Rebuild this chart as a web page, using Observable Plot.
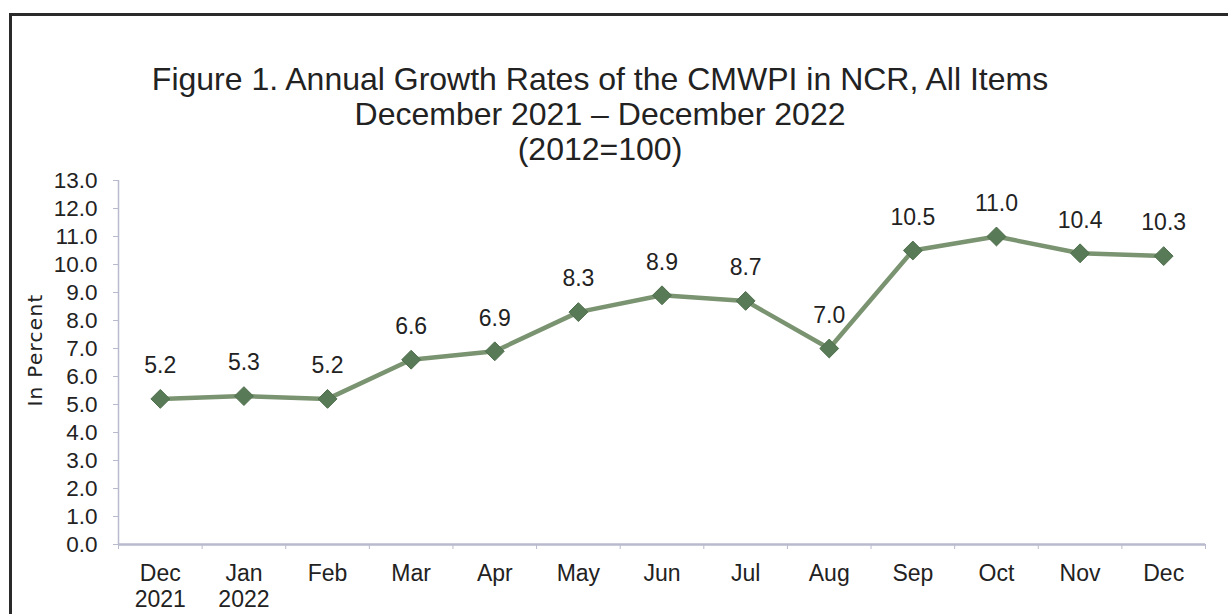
<!DOCTYPE html>
<html>
<head>
<meta charset="utf-8">
<script src="https://cdn.jsdelivr.net/npm/d3@7"></script>
<script src="https://cdn.jsdelivr.net/npm/@observablehq/plot@0.6"></script>
<style>
  html, body { margin: 0; padding: 0; background: #fff; width: 1228px; height: 614px; overflow: hidden; }
  #frame { position: absolute; left: 9px; top: 13px; width: 1300px; height: 700px; border-left: 3px solid #2a2a2a; border-top: 3px solid #2a2a2a; }
  #title { position: absolute; left: 0; top: 62px; width: 1200px; text-align: center; font-family: "Liberation Sans", Arial, sans-serif; font-size: 32px; line-height: 35px; color: #222; }
  #ylabel { position: absolute; left: 35px; top: 350px; transform: translate(-50%, -50%) rotate(-90deg); white-space: nowrap; font-family: "DejaVu Sans", sans-serif; font-size: 20px; letter-spacing: 1.3px; color: #222; }
  #chart { position: absolute; left: 0; top: 0; }
</style>
</head>
<body>
<div id="frame"></div>
<div id="title">Figure 1. Annual Growth Rates of the CMWPI in NCR, All Items<br>December 2021 – December 2022<br>(2012=100)</div>
<div id="chart"></div>
<div id="ylabel">In Percent</div>
<script>
const months = ["Dec\n2021", "Jan\n2022", "Feb", "Mar", "Apr", "May", "Jun", "Jul", "Aug", "Sep", "Oct", "Nov", "Dec"];
const rates = [5.2, 5.3, 5.2, 6.6, 6.9, 8.3, 8.9, 8.7, 7.0, 10.5, 11.0, 10.4, 10.3];
const yTicks = [0, 1, 2, 3, 4, 5, 6, 7, 8, 9, 10, 11, 12, 13];

const data = months.map((m, i) => ({i, month: m, rate: rates[i]}));
const idx = months.map((_, i) => i);
const bounds = [...idx.map(i => i - 0.5), months.length - 0.5];

const axisColor = "#b9bacd";
const green = "#7a9370";
const dark = "#587a56";

const chart = Plot.plot({
  width: 1228,
  height: 614,
  marginLeft: 118,
  marginRight: 23,
  marginTop: 180,
  marginBottom: 70,
  style: {fontFamily: "'Liberation Sans', Arial, sans-serif", background: "transparent", color: "#222"},
  x: {domain: [-0.5, months.length - 0.5]},
  y: {domain: [0, 13]},
  marks: [
    Plot.ruleX([-0.5], {stroke: axisColor, strokeWidth: 1.5}),
    Plot.ruleY([0], {stroke: axisColor, strokeWidth: 2.5}),
    Plot.axisY({ticks: yTicks, tickFormat: d => d.toFixed(1), tickSize: 5, tickPadding: 16, stroke: axisColor, fontSize: 22.5, fill: "#222", label: null}),
    Plot.axisX({ticks: bounds, tickFormat: () => "", tickSize: 5, stroke: axisColor, label: null}),
    Plot.axisX({ticks: idx, tickFormat: i => months[i], tickSize: 0, tickPadding: 18, fontSize: 23, fill: "#222", label: null, lineHeight: 1.12}),
    Plot.line(data, {x: "i", y: "rate", stroke: green, strokeWidth: 4.5}),
    Plot.dot(data, {x: "i", y: "rate", symbol: "diamond2", r: 8.5, fill: dark, stroke: "#4f6f4d", strokeWidth: 1}),
    Plot.text(data, {x: "i", y: "rate", text: d => d.rate.toFixed(1), dy: -33, fontSize: 23, fill: "#222"})
  ]
});
document.getElementById("chart").append(chart);
</script>
</body>
</html>
